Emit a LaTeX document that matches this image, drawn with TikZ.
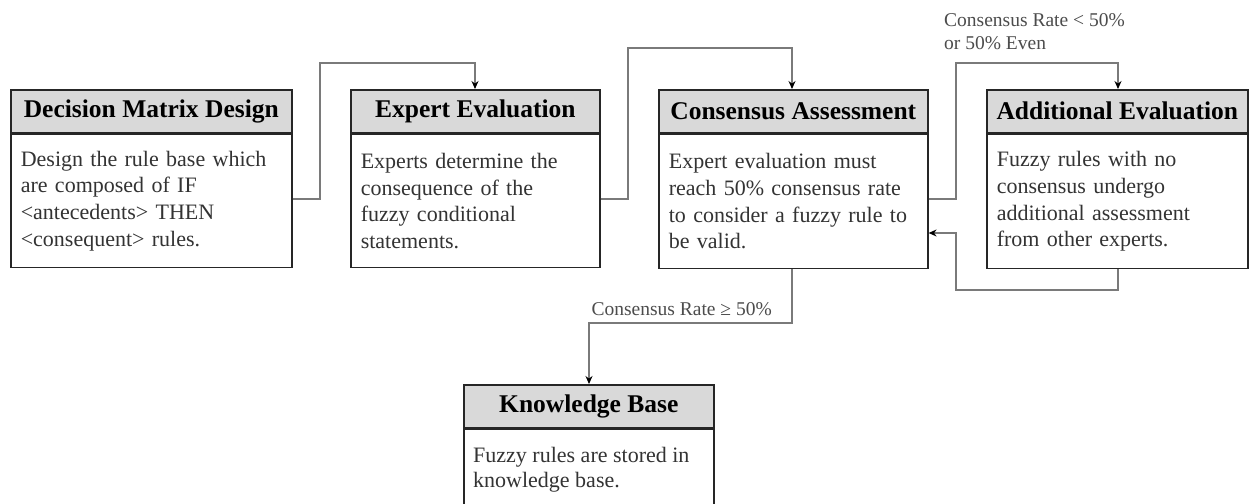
\documentclass[tikz,border=0pt]{standalone}
\usepackage{fontspec}
\setmainfont{Liberation Serif}
\usetikzlibrary{arrows.meta}
\definecolor{hdrfill}{HTML}{D9D9D9}
\definecolor{bodytxt}{HTML}{333333}
\definecolor{wire}{HTML}{7A7A7A}
\tikzset{
  hdr/.style={draw=black!85, line width=1.6pt, fill=hdrfill, anchor=north west,
    minimum height=43pt, inner sep=0pt, font=\fontsize{25.5}{28}\selectfont\bfseries},
  bodybox/.style={draw=black!85, line width=1.6pt, fill=white, anchor=north west,
    inner xsep=10pt, inner ysep=0pt, align=left, text=bodytxt,
    font=\fontsize{22}{26.7}\selectfont},
  wirestyle/.style={draw=wire, line width=1.1pt},
  flow/.style={wirestyle, -{Stealth[length=8pt,width=7pt,color=black]}},
  lbl/.style={text=black!70, font=\fontsize{19.5}{23}\selectfont, inner sep=0pt, align=left}
}
\begin{document}
\begin{tikzpicture}[x=1pt,y=-1pt]
\useasboundingbox[fill=white] (0,0) rectangle (1249,503);

% stage boxes: header strip plus description body
\node[hdr, minimum width=281pt] (h1) at (10,89) {Decision Matrix Design};
\node[bodybox, text width=261pt, minimum height=133pt] (b1) at (h1.south west)
  {Design the rule base which\\are composed of IF\\<antecedents> THEN\\<consequent> rules.};

\node[hdr, minimum width=249pt] (h2) at (350,89) {Expert Evaluation};
\node[bodybox, text width=229pt, minimum height=133pt] (b2) at (h2.south west)
  {Experts determine the\\consequence of the\\fuzzy conditional\\statements.};

\node[hdr, minimum width=269pt] (h3) at (658,89) {Consensus Assessment};
\node[bodybox, text width=249pt, minimum height=134pt] (b3) at (h3.south west)
  {Expert evaluation must\\reach 50\% consensus rate\\to consider a fuzzy rule to\\be valid.};

\node[hdr, minimum width=261pt] (h4) at (986,89) {Additional Evaluation};
\node[bodybox, text width=241pt, minimum height=134pt] (b4) at (h4.south west)
  {Fuzzy rules with no\\consensus undergo\\additional assessment\\from other experts.};

\node[hdr, minimum width=250pt] (h5) at (463,384) {Knowledge Base};
\node[bodybox, text width=230pt, minimum height=80pt, anchor=north west] (b5) at (h5.south west) {};
\node[anchor=north west, inner sep=0pt, align=left, text=bodytxt,
  font=\fontsize{22}{25.5}\selectfont] (t5) at ([xshift=10pt,yshift=-18pt]h5.south west)
  {Fuzzy rules are stored in\\knowledge base.};

% turning points of the connectors
\coordinate (c1a) at (320,199);
\coordinate (c1b) at (320,63);
\coordinate (c2a) at (628,199);
\coordinate (c2b) at (628,48);
\coordinate (c3a) at (956,199);
\coordinate (c3b) at (956,63);
\coordinate (r1) at (1118,290);
\coordinate (r2) at (956,290);
\coordinate (r3) at (956,233);
\coordinate (k1) at (792,323);
\coordinate (k2) at (589,323);

% connectors
\draw[flow] (b1.east |- c1a) -- (c1a) -- (c1b) -| (h2.north -| 475,0);
\draw[flow] (b2.east |- c2a) -- (c2a) -- (c2b) -| (h3.north -| 792,0);
\draw[flow] (b3.east |- c3a) -- (c3a) -- (c3b) -| (h4.north -| 1118,0);
\draw[flow] (b4.south -| r1) -- (r1) -- (r2) -- (r3) -- (b3.east |- r3);
\draw[flow] (b3.south -| k1) -- (k1) -- (k2) -- (h5.north -| k2);

% condition labels
\node[lbl, anchor=north west] (l1) at (944,13) {Consensus Rate < 50\%\\or 50\% Even};
\node[lbl, anchor=base east] (l2) at (772,315) {Consensus Rate ≥ 50\%};
\end{tikzpicture}
\end{document}
